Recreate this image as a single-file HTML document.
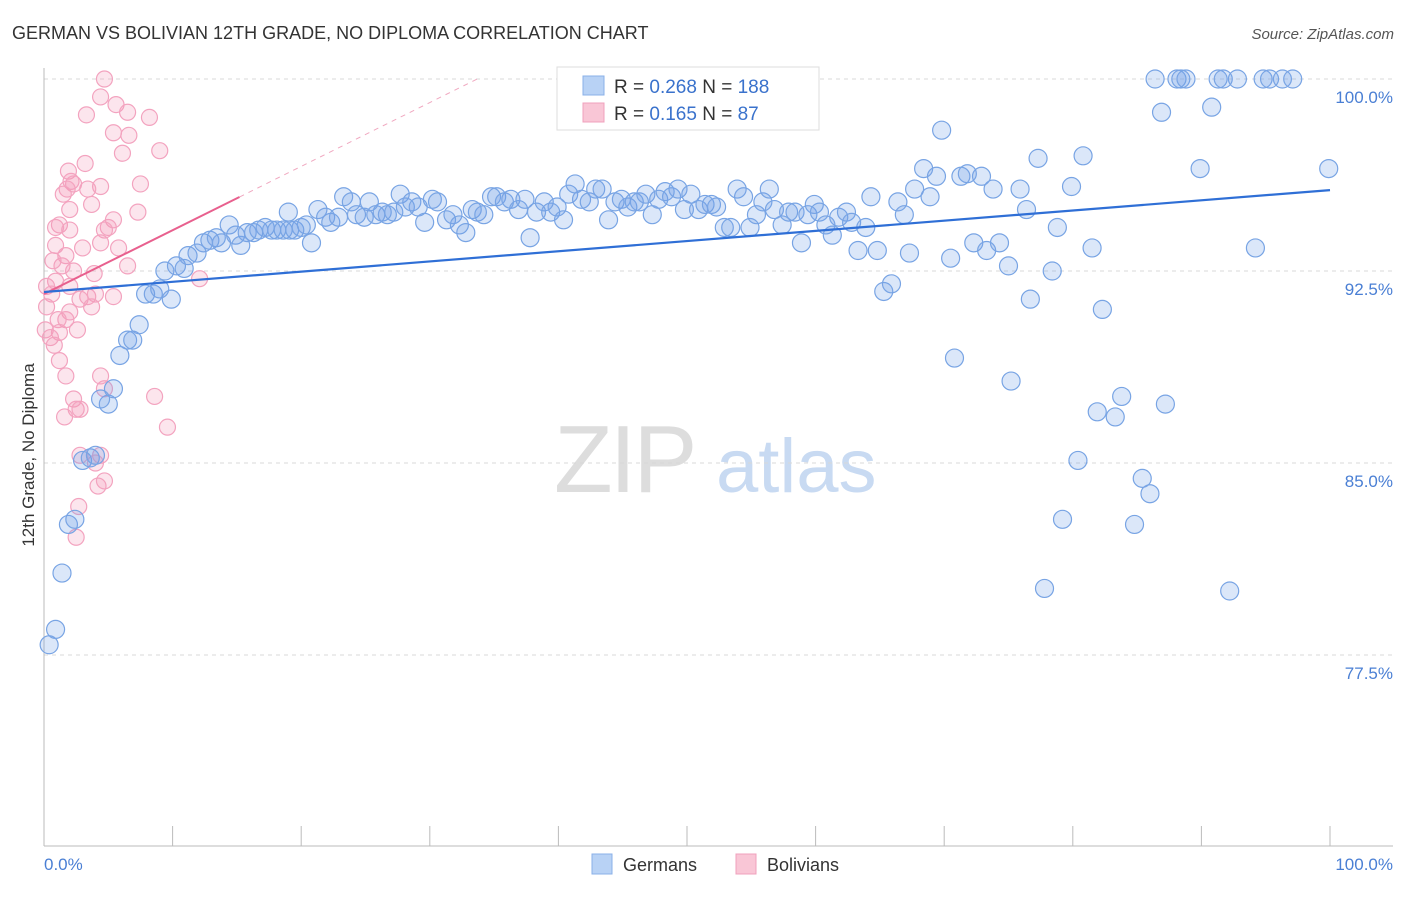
<!DOCTYPE html>
<html><head><meta charset="utf-8"><style>
body{margin:0;background:#fff;font-family:"Liberation Sans",sans-serif;}
svg text{font-family:"Liberation Sans",sans-serif;}
</style></head><body>
<svg id="chart" width="1406" height="892" xmlns="http://www.w3.org/2000/svg">
<text x="12" y="39" font-size="18" fill="#333">GERMAN VS BOLIVIAN 12TH GRADE, NO DIPLOMA CORRELATION CHART</text>
<text x="1394" y="39" font-size="15" fill="#555" font-style="italic" text-anchor="end">Source: ZipAtlas.com</text>
<g>
<text x="554" y="492" font-size="96" fill="#ddd" font-family="Liberation Serif" letter-spacing="-3">ZIP</text>
<text x="716" y="492" font-size="76" fill="#c8daf2">atlas</text>
</g>
<g id="grid"></g>
<g id="axes"></g>
<g id="pts"></g>
<g id="lines"></g>
<text transform="translate(34,455) rotate(-90)" font-size="17" fill="#333" text-anchor="middle">12th Grade, No Diploma</text>
<g>
<rect x="557" y="67" width="262" height="63" fill="#fff" stroke="#ddd"/>
<rect x="583" y="76" width="21" height="19" fill="#b8d2f5" stroke="#8ab0e8"/>
<rect x="583" y="103" width="21" height="19" fill="#f9c6d6" stroke="#f0a0bc"/>
<text x="614" y="93" font-size="19" fill="#333">R = <tspan fill="#3a72cc">0.268</tspan>   N = <tspan fill="#3a72cc">188</tspan></text>
<text x="614" y="120" font-size="19" fill="#333">R =  <tspan fill="#3a72cc">0.165</tspan>   N =   <tspan fill="#3a72cc">87</tspan></text>
</g>
<g>
<rect x="592" y="854" width="20" height="20" fill="#b8d2f5" stroke="#8ab0e8"/>
<text x="623" y="871" font-size="18" fill="#333">Germans</text>
<rect x="736" y="854" width="20" height="20" fill="#f9c6d6" stroke="#f0a0bc"/>
<text x="767" y="871" font-size="18" fill="#333">Bolivians</text>
</g>
</svg>
<script>
const yTicks=[100,92.5,85,77.5];
const yTickLabels=["100.0%","92.5%","85.0%","77.5%"];
const xTickValues=[0,10,20,30,40,50,60,70,80,90,100];
const germanX=[0.4,0.9,1.4,1.9,2.4,3.0,3.6,4.0,5.0,4.4,5.4,5.9,6.5,6.9,7.4,7.9,8.5,9.0,9.9,9.4,10.3,10.9,11.2,11.9,12.4,12.9,13.4,13.8,14.4,14.9,15.3,15.8,16.3,16.7,17.2,17.7,18.1,18.6,19.1,19.5,20.0,20.4,20.8,19.0,21.3,21.9,22.3,22.9,23.3,23.9,24.3,24.9,25.3,25.8,26.3,26.7,27.2,27.7,28.1,28.6,29.1,29.6,30.2,30.6,31.3,31.8,32.3,32.8,33.3,33.7,34.2,34.8,35.2,35.8,36.3,36.9,37.4,37.8,38.3,38.9,39.4,39.9,40.4,40.8,41.3,41.8,42.4,42.9,43.4,43.9,44.4,44.9,45.4,45.9,46.3,46.8,47.3,47.8,48.3,48.8,49.3,49.8,50.3,50.9,51.4,51.9,52.3,52.9,53.4,53.9,54.4,54.9,55.4,55.9,56.4,56.8,57.4,57.9,58.4,58.9,59.4,59.9,60.3,60.8,61.3,61.8,62.4,62.8,63.3,63.9,64.3,64.8,65.3,65.9,66.4,66.9,67.3,67.7,68.4,68.9,69.4,69.8,70.5,70.8,71.3,71.8,72.3,72.9,73.3,73.8,74.3,75.0,75.2,75.9,76.4,76.7,77.3,77.8,78.4,78.8,79.2,79.9,80.4,80.8,81.5,81.9,82.3,83.3,83.8,84.8,85.4,86.0,86.4,86.9,87.2,88.1,88.4,88.8,89.9,90.8,91.3,91.7,92.2,92.8,94.2,94.8,95.3,96.3,97.1,99.9];
const germanY=[77.9,78.5,80.7,82.6,82.8,85.1,85.2,85.3,87.3,87.5,87.9,89.2,89.8,89.8,90.4,91.6,91.6,91.8,91.4,92.5,92.7,92.6,93.1,93.2,93.6,93.7,93.8,93.6,94.3,93.9,93.5,94.0,94.0,94.1,94.2,94.1,94.1,94.1,94.1,94.1,94.2,94.3,93.6,94.8,94.9,94.6,94.4,94.6,95.4,95.2,94.7,94.6,95.2,94.7,94.8,94.7,94.8,95.5,95.0,95.2,95.0,94.4,95.3,95.2,94.5,94.7,94.3,94.0,94.9,94.8,94.7,95.4,95.4,95.2,95.3,94.9,95.3,93.8,94.8,95.2,94.8,95.0,94.5,95.5,95.9,95.3,95.2,95.7,95.7,94.5,95.2,95.3,95.0,95.2,95.2,95.5,94.7,95.3,95.6,95.4,95.7,94.9,95.5,94.9,95.1,95.1,95.0,94.2,94.2,95.7,95.4,94.2,94.7,95.2,95.7,94.9,94.3,94.8,94.8,93.6,94.7,95.1,94.8,94.3,93.9,94.6,94.8,94.4,93.3,94.2,95.4,93.3,91.7,92.0,95.2,94.7,93.2,95.7,96.5,95.4,96.2,98.0,93.0,89.1,96.2,96.3,93.6,96.2,93.3,95.7,93.6,92.7,88.2,95.7,94.9,91.4,96.9,80.1,92.5,94.2,82.8,95.8,85.1,97.0,93.4,87.0,91.0,86.8,87.6,82.6,84.4,83.8,100,98.7,87.3,100,100,100,96.5,98.9,100,100,80.0,100,93.4,100,100,100,100,96.5];
const bolivianX=[4.7,4.4,5.6,6.5,8.2,3.3,5.4,6.6,6.1,9.0,3.2,1.9,2.1,2.3,1.8,4.4,7.5,3.4,3.7,1.5,2.0,7.3,5.4,5.0,4.7,1.2,0.9,2.0,3.0,4.4,5.8,0.9,1.7,1.4,0.7,2.3,6.5,12.1,3.9,2.0,0.9,0.2,0.6,3.4,4.0,5.4,2.8,0.2,3.7,2.0,1.7,1.1,0.1,1.2,2.6,0.5,0.8,1.2,1.7,4.4,4.7,8.6,2.3,2.5,2.8,1.6,9.6,2.8,4.4,4.0,4.2,4.7,2.7,2.5];
const bolivianY=[100,99.3,99.0,98.7,98.5,98.6,97.9,97.8,97.1,97.2,96.7,96.4,96.0,95.9,95.7,95.8,95.9,95.7,95.1,95.5,94.9,94.8,94.5,94.2,94.1,94.3,94.2,94.1,93.4,93.6,93.4,93.5,93.1,92.7,92.9,92.5,92.7,92.2,92.4,91.9,92.1,91.9,91.6,91.5,91.6,91.5,91.4,91.1,91.1,90.9,90.6,90.6,90.2,90.1,90.2,89.9,89.6,89.0,88.4,88.4,87.9,87.6,87.5,87.1,87.1,86.8,86.4,85.3,85.3,85.0,84.1,84.3,83.3,82.1];
const germanTrend=[91.68,95.66];
const bolivianTrend=[91.6,95.39];
const bolivianTrendEnd=15.2;

const NS="http://www.w3.org/2000/svg";
const X0=44,X1=1330,YTOP=79,PPU=25.6;
function sx(v){return X0+(X1-X0)*v/100;}
function sy(v){return YTOP+(100-v)*PPU;}
function mk(tag,attrs,parent){const e=document.createElementNS(NS,tag);for(const k in attrs)e.setAttribute(k,attrs[k]);parent.appendChild(e);return e;}
const grid=document.getElementById('grid'),axes=document.getElementById('axes');
yTicks.forEach((t,i)=>{
  const l=mk('line',{x1:44,x2:1393,y1:sy(t),y2:sy(t),stroke:'#d8d8d8','stroke-dasharray':'4,4'},grid);
  
  
  const tx=mk('text',{x:1393,y:sy(t)+24,'font-size':17,fill:'#4a7fd4','text-anchor':'end'},axes);
  tx.textContent=yTickLabels[i];
  
  
});
mk('line',{x1:44,x2:44,y1:68,y2:846,stroke:'#bbb'},axes);
mk('line',{x1:44,x2:1393,y1:846,y2:846,stroke:'#bbb'},axes);
xTickValues.forEach(v=>{
  const t=mk('line',{x1:sx(v),x2:sx(v),y1:826,y2:846,stroke:'#bbb'},axes);
  
  
});
const xl0=mk('text',{x:44,y:870,'font-size':17,fill:'#4a7fd4'},axes);xl0.textContent="0.0%";


const xl1=mk('text',{x:1393,y:870,'font-size':17,fill:'#4a7fd4','text-anchor':'end'},axes);xl1.textContent="100.0%";


const pts=document.getElementById('pts');
bolivianX.forEach((x,i)=>{
  const c=mk('circle',{cx:sx(x),cy:sy(bolivianY[i]),r:8,fill:'rgba(244,150,185,0.25)',stroke:'#f3a3bf','stroke-width':1.2},pts);
  
  
});
germanX.forEach((x,i)=>{
  const c=mk('circle',{cx:sx(x),cy:sy(germanY[i]),r:9,fill:'rgba(110,160,230,0.25)',stroke:'#78a4e4','stroke-width':1.2},pts);
  
  
});
const lines=document.getElementById('lines');
const slopeB=(bolivianTrend[1]-bolivianTrend[0])/bolivianTrendEnd;
const bxEnd=(100-bolivianTrend[0])/slopeB;
const d=mk('line',{x1:sx(bolivianTrendEnd),y1:sy(bolivianTrend[1]),x2:sx(bxEnd),y2:sy(100),stroke:'#f0a8c0','stroke-dasharray':'5,5','stroke-width':1},lines);


const bl=mk('line',{x1:sx(0),y1:sy(bolivianTrend[0]),x2:sx(bolivianTrendEnd),y2:sy(bolivianTrend[1]),stroke:'#e8608e','stroke-width':2},lines);


const gl=mk('line',{x1:sx(0),y1:sy(germanTrend[0]),x2:sx(100),y2:sy(germanTrend[1]),stroke:'#2f6fd6','stroke-width':2.2},lines);


</script>
</body></html>
